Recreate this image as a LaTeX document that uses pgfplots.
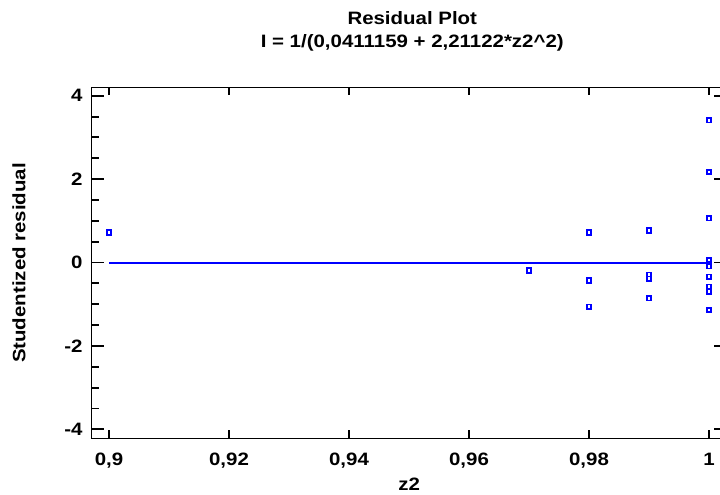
\documentclass[border=0pt]{standalone}
\usepackage{fontspec}
\setmainfont{Liberation Sans}[FakeStretch=1.14]
\usepackage{pgfplots}
\pgfplotsset{compat=1.18}
\definecolor{ptblue}{RGB}{0,0,255}
\newcommand{\lf}{\bfseries\fontsize{18}{21}\selectfont}
\begin{document}
\begin{tikzpicture}
\begin{axis}[
  at={(0,0)}, anchor=south west,
  scale only axis, width=635.5bp, height=351bp,
  xmin=0.89708, xmax=1.003, ymin=-4.22, ymax=4.197,
  clip=false,
  axis line style={line width=1.9bp},
  xtick={0.9,0.92,0.94,0.96,0.98,1},
  xticklabels={{0,9},{0,92},{0,94},{0,96},{0,98},{1}},
  minor xtick={0.9,0.92,0.94,0.96,0.98,1},
  major x tick style={draw=none},
  ytick={-4,-2,0,2,4},
  yticklabels={-4,-2,0,2,4},
  minor ytick={-3.5,-3,-2.5,-1.5,-1,-0.5,0.5,1,1.5,2.5,3,3.5},
  xtick pos=both, ytick pos=left,
  tick align=inside,
  major tick length=13bp, minor tick length=8bp,
  tick style={line width=1.9bp, black},
  /pgf/number format/assume math mode=true,
  xticklabel style={font=\lf, anchor=base, yshift=-26.5bp, inner sep=0pt},
  yticklabel style={font=\lf, anchor=east, xshift=-8.8bp, inner sep=0pt},
]
\addplot[ptblue, line width=2.0bp] coordinates {(0.9,0) (1,0)};
\addplot[only marks, mark=square*, mark size=2.2bp,
  mark options={draw=ptblue, fill=white, line width=1.8bp}] coordinates {
  (0.9,0.72)
  (0.97,-0.19)
  (0.98,0.72) (0.98,-0.43) (0.98,-1.06)
  (0.99,0.77) (0.99,-0.29) (0.99,-0.39) (0.99,-0.86)
  (1,3.41) (1,2.17) (1,1.06) (1,0.06) (1,-0.09) (1,-0.34) (1,-0.58) (1,-0.70) (1,-1.14)
};
\node[anchor=base, font=\lf, xshift=3bp, yshift=62.5bp] at (rel axis cs:0.5,1) {Residual Plot};
\node[anchor=base, font=\lf, xshift=3bp, yshift=40.2bp] at (rel axis cs:0.5,1) {I = 1/(0,0411159 + 2,21122*z2\char`\^2)};
\node[anchor=base, font=\lf, yshift=-51.5bp] at (rel axis cs:0.5,0) {z2};
\node[xshift=-72.5bp, rotate=90, anchor=center, font=\lf] at (rel axis cs:0,0.5) {Studentized residual};
\end{axis}
\begin{axis}[
  at={(0,0)}, anchor=south west,
  scale only axis, width=635.5bp, height=351bp,
  xmin=0.89708, xmax=1.003, ymin=-4.22, ymax=4.197,
  axis x line=none, axis y line*=right,
  axis line style={line width=1.9bp},
  ytick={-4,-2,0,2,4}, yticklabels={},
  tick align=inside, major tick length=13bp,
  tick style={line width=1.9bp, black},
]
\end{axis}
\pgfresetboundingbox
\useasboundingbox (-91.5bp,-56.5bp) rectangle (628.5bp,438.5bp);
\end{tikzpicture}
\end{document}
